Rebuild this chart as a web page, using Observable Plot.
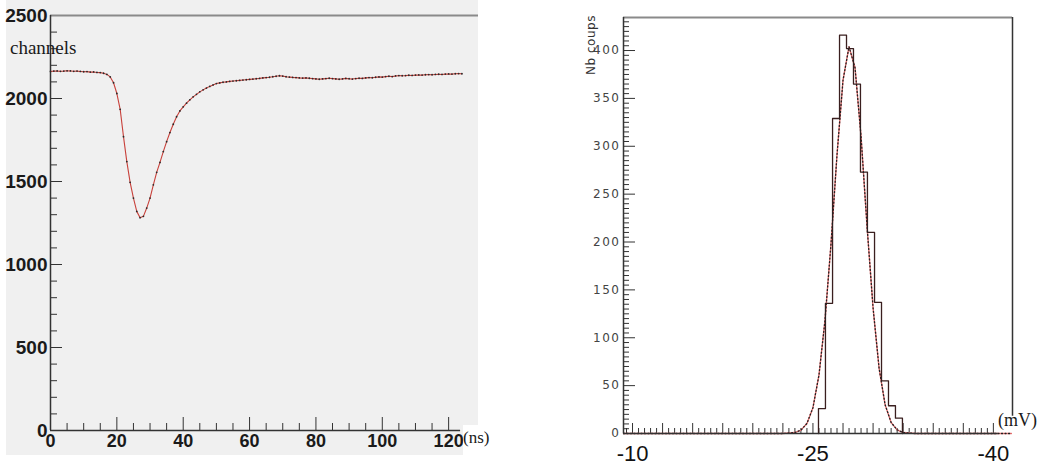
<!DOCTYPE html>
<html><head><meta charset="utf-8">
<script src="https://cdn.jsdelivr.net/npm/d3@7"></script>
<script src="https://cdn.jsdelivr.net/npm/@observablehq/plot@0.6"></script>
<style>
html,body{margin:0;padding:0;background:#fff;}
#root{position:relative;width:1039px;height:469px;overflow:hidden;background:#fff;}
.lbl{position:absolute;white-space:nowrap;line-height:1;color:#1a1a1a;}
.serif{font-family:"Liberation Serif","DejaVu Serif",serif;}
#left{position:absolute;left:6px;top:0;}
#right{position:absolute;left:560px;top:0;}
#left svg text{font-family:"Liberation Sans Narrow","Liberation Sans",sans-serif;font-weight:bold;fill:#1a1a1a;}
#right g[aria-label="x-axis tick label"] text{font-family:"Liberation Sans Narrow","Liberation Sans",sans-serif;fill:#111;}
#right g[aria-label="y-axis tick label"] text{font-family:"DejaVu Sans",sans-serif;letter-spacing:1.5px;fill:#444;}
</style></head><body>
<div id="root">
  <div id="left"></div>
  <div id="right"></div>
  <div class="lbl serif" style="left:10px;top:38px;font-size:19px;">channels</div>
  <div style="position:absolute;left:463px;top:425px;width:15px;height:30px;background:#fff;"></div>
  <div class="lbl serif" style="left:463px;top:429px;font-size:17px;">(ns)</div>
  <div class="lbl serif" style="left:998px;top:411px;font-size:18px;">(mV)</div>
  <div class="lbl" style="left:591px;top:45px;font-size:12px;font-family:'DejaVu Sans',sans-serif;letter-spacing:0.5px;color:#333;transform:translate(-50%,-50%) rotate(-90deg);">Nb coups</div>
</div>
<script>
// ---------- Left panel data: pulse waveform (1 sample per ns) ----------
const sampleNs = 1;
const channels = [
 2163,2165,2166,2164,2165,2167,2166,2164,2165,2163,
 2161,2162,2159,2160,2157,2156,2152,2145,2130,2095,
 2030,1935,1770,1620,1495,1400,1320,1282,1290,1340,
 1400,1480,1555,1615,1680,1740,1795,1845,1890,1925,
 1950,1972,1992,2010,2025,2040,2052,2063,2073,2082,
 2090,2094,2098,2100,2103,2105,2107,2109,2111,2113,
 2115,2117,2119,2121,2124,2126,2128,2131,2134,2137,
 2135,2131,2129,2127,2126,2124,2123,2124,2122,2120,
 2118,2116,2118,2120,2122,2120,2118,2116,2118,2121,
 2119,2117,2120,2122,2121,2124,2126,2125,2128,2130,
 2129,2132,2134,2132,2136,2138,2137,2138,2140,2139,
 2141,2142,2141,2143,2144,2143,2145,2146,2145,2147,
 2148,2147,2149,2150,2149
];
const leftXLabels = [0,20,40,60,80,100,120];
const leftYLabels = [0,500,1000,1500,2000,2500];

// ---------- Right panel data: histogram (mV) ----------
const binEdges = [-25.46,-26.04,-26.63,-27.21,-27.79,-28.37,-28.95,-29.53,-30.12,-30.70,-31.28,-31.86,-32.44];
const binCounts = [26,136,329,416,402,365,273,210,137,55,29,16];
const fitX = [-9.25,-22.5,-23.5,-24.0,-24.5,-25.0,-25.5,-26.0,-26.5,-27.0,-27.5,-28.0,-28.5,-29.0,-29.5,-30.0,-30.5,-31.0,-31.5,-32.0,-32.5,-33.5,-41.5];
const fitY = [0,0,1,3.5,10.5,27,61,118,198,291,369,404,382,310,216,131,68,30,11.5,3.8,1,0,0];
const rightXLabels = [-10,-25,-40];
const rightYLabels = [0,50,100,150,200,250,300,350,400];

// ---------- Left plot ----------
const waveform = channels.map((v,i)=>({t:i*sampleNs, v}));
const L = {w:472,h:455,ml:44,mr:0,mt:15,mb:25};
const LpW = L.w-L.ml-L.mr, LpH = L.h-L.mt-L.mb;
const lxMinor = d3.range(0,121,5).filter(d=>d%20!==0);
const lxMajor = d3.range(20,121,20);
const lyMinor = d3.range(100,2500,100).filter(d=>d%500!==0);
const lyMajor = [500,1000,1500,2000];
const leftPlot = Plot.plot({
  width:L.w,height:L.h,marginLeft:L.ml,marginRight:L.mr,marginTop:L.mt,marginBottom:L.mb,
  style:{background:"#f0f0f0",overflow:"visible"},
  x:{domain:[0,129],axis:null},
  y:{domain:[0,2500],axis:null},
  marks:[
    Plot.ruleY([2500],{stroke:"#8a8a8a",strokeWidth:2}),
    Plot.tickY(lyMinor,{y:d=>d,stroke:"#333",insetRight:LpW-7}),
    Plot.tickY(lyMajor,{y:d=>d,stroke:"#333",insetRight:LpW-12}),
    Plot.tickX(lxMinor,{x:d=>d,stroke:"#333",insetTop:LpH-7}),
    Plot.tickX(lxMajor,{x:d=>d,stroke:"#333",insetTop:LpH-13}),
    Plot.ruleX([0],{y1:0,y2:2500,stroke:"#333",strokeWidth:1.5}),
    Plot.ruleY([0],{x1:0,x2:123.6,stroke:"#333",strokeWidth:1.5}),
    Plot.line(waveform,{x:"t",y:"v",stroke:"#c8403a",strokeWidth:1.1}),
    Plot.dot(waveform,{x:"t",y:"v",r:0.9,fill:"#2a2a2a",stroke:null}),
    Plot.axisY(leftYLabels,{label:null,tickSize:0,tickPadding:3,fontSize:19,tickFormat:d=>String(d)}),
    Plot.axisX(leftXLabels,{label:null,tickSize:0,tickPadding:4,fontSize:18,tickFormat:d=>String(d)})
  ]
});
document.getElementById("left").appendChild(leftPlot);

// ---------- Right plot ----------
const R = {w:479,h:469,ml:63,mr:27,mt:17,mb:36};
const RpW = R.w-R.ml-R.mr, RpH = R.h-R.mt-R.mb;
const xDom = [-9.25,-41.59], yMax = 434.5;
const rxAll = d3.range(-95,-401,-5).map(d=>d/10);
const rxMajor = rxAll.filter(d=>Math.abs((d*10)%25)<1e-6);
const rxMinor = rxAll.filter(d=>!rxMajor.includes(d));
const ryAll = d3.range(5,435,5);
const ryMajor = ryAll.filter(d=>d%50===0);
const ryMinor = ryAll.filter(d=>d%50!==0);
const histPts = [{x:binEdges[0],y:0}]
  .concat(binCounts.map((c,i)=>({x:binEdges[i],y:c})))
  .concat([{x:binEdges[binEdges.length-1],y:0}]);
const fit = fitX.map((x,i)=>({x,y:fitY[i]}));
const rightPlot = Plot.plot({
  width:R.w,height:R.h,marginLeft:R.ml,marginRight:R.mr,marginTop:R.mt,marginBottom:R.mb,
  style:{background:"transparent",overflow:"visible"},
  x:{domain:xDom,axis:null},
  y:{domain:[0,yMax],axis:null},
  marks:[
    Plot.ruleY([yMax],{stroke:"#8a8a8a",strokeWidth:2}),
    Plot.ruleX([xDom[1]],{y1:18,y2:yMax,stroke:"#333",strokeWidth:1.5}),
    Plot.tickY(ryMinor,{y:d=>d,stroke:"#333",insetRight:RpW-6}),
    Plot.tickY(ryMajor,{y:d=>d,stroke:"#333",insetRight:RpW-12}),
    Plot.tickX(rxMinor,{x:d=>d,stroke:"#333",insetTop:RpH-5}),
    Plot.tickX(rxMajor,{x:d=>d,stroke:"#333",insetTop:RpH-10}),
    Plot.line(fit,{x:"x",y:"y",stroke:"#e87070",strokeWidth:1.4}),
    Plot.line(histPts,{x:"x",y:"y",curve:"step-after",stroke:"#3a1f1f",strokeWidth:1.3}),
    Plot.line(fit,{x:"x",y:"y",stroke:"#222",strokeWidth:1.3,strokeDasharray:"1,2.5"}),
    Plot.ruleX([xDom[0]],{y1:0,y2:yMax,stroke:"#333",strokeWidth:1.5}),
    Plot.ruleY([0],{x1:xDom[0],x2:-40.4,stroke:"#333",strokeWidth:1.5}),
    Plot.axisY(rightYLabels,{label:null,tickSize:0,tickPadding:3,fontSize:12,tickFormat:d=>String(d)}),
    Plot.axisX(rightXLabels,{label:null,tickSize:0,tickPadding:12,fontSize:22,tickFormat:d=>String(d)})
  ]
});
document.getElementById("right").appendChild(rightPlot);
</script>
</body></html>
